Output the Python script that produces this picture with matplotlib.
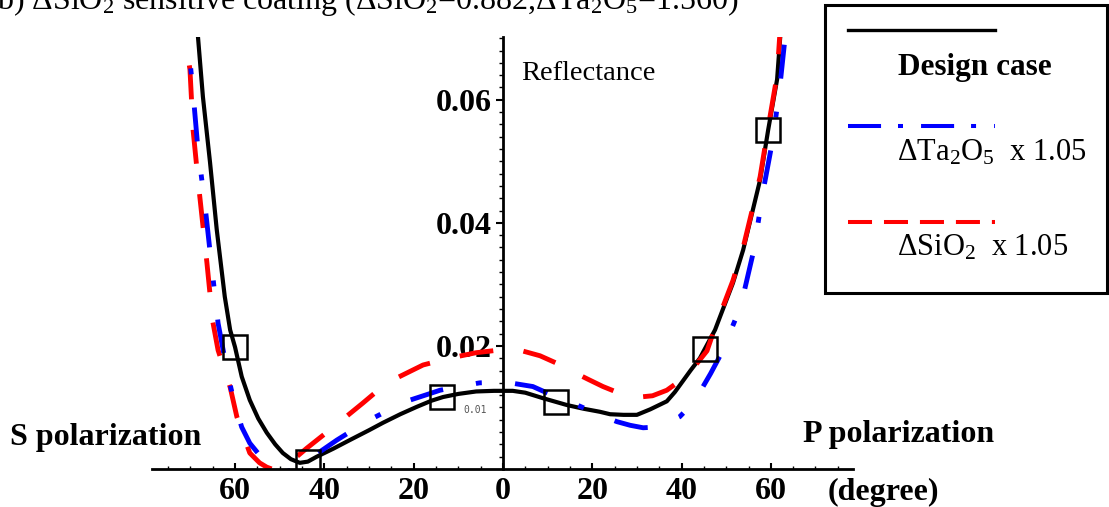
import numpy as np
import matplotlib
matplotlib.use('Agg')
import matplotlib.pyplot as plt
from matplotlib.lines import Line2D
from matplotlib.patches import Rectangle

# angle of incidence in degrees: S polarization plotted on the negative side, P on the positive side
design_deg = [-69.5, -68.3, -67.2, -65.6, -64.1, -62.3, -61.1, -60.0, -58.5, -56.7, -54.8, -52.9,
              -51.0, -49.3, -47.5, -45.5, -43.7, -41.7, -38.0, -34.3, -30.0, -26.9, -23.0, -19.3,
              -16.0, -13.4, -10.0, -6.0, -2.0, 0.0, 2.2, 5.0, 9.0, 14.3, 18.0, 21.7, 24.0, 27.0,
              30.0, 33.0, 36.7, 38.5, 40.3, 42.0, 44.1, 45.5, 47.5, 48.6, 51.5, 53.8, 55.8, 57.6,
              59.4, 61.4, 62.1, 62.8]
design_R = [0.080, 0.0702, 0.0605, 0.0498, 0.0389, 0.0280, 0.0226, 0.0198, 0.0150, 0.0112, 0.0082, 0.0059,
            0.0040, 0.0026, 0.0016, 0.0010, 0.0012, 0.0020, 0.0033, 0.0047, 0.0063, 0.0075, 0.0089, 0.0101,
            0.0111, 0.0117, 0.0122, 0.0126, 0.0127, 0.0127, 0.0127, 0.0124, 0.0115, 0.0104, 0.0098, 0.0093,
            0.0089, 0.0088, 0.0088, 0.0097, 0.0110, 0.0125, 0.0143, 0.0160, 0.0180, 0.0199, 0.0226, 0.0247,
            0.0302, 0.0356, 0.0416, 0.0470, 0.0551, 0.0633, 0.0702, 0.0770]

ta_deg = [-71.3, -70.6, -69.4, -68.3, -66.8, -65.4, -63.8, -61.8, -60.2, -58.5, -56.7, -54.0, -51.5,
          -50.5, -48.5, -46.5, -44.5, -42.6, -40.0, -37.2, -33.0, -29.0, -25.0, -20.8, -17.0, -14.1,
          -10.0, -5.2, 0.0, 1.6, 6.7, 11.0, 16.6, 21.0, 25.5, 28.5, 31.4, 34.0, 36.5, 39.6, 42.0, 44.1,
          46.5, 49.0, 52.0, 53.5, 56.2, 58.2, 60.5, 62.0, 63.2, 64.0]
ta_R = [0.076, 0.0702, 0.0611, 0.0519, 0.0433, 0.0340, 0.0237, 0.0160, 0.0108, 0.0068, 0.0042, 0.0018, 0.0003,
        0.0000, -0.0004, 0.0000, 0.0010, 0.0020, 0.0033, 0.0047, 0.0066, 0.0083, 0.0098, 0.0112, 0.0121, 0.0128,
        0.0134, 0.0140, 0.0141, 0.0140, 0.0134, 0.0120, 0.0104, 0.0090, 0.0077, 0.0071, 0.0067, 0.0068, 0.0074,
        0.0085, 0.0103, 0.0125, 0.0155, 0.0189, 0.0242, 0.0272, 0.0356, 0.0449, 0.0538, 0.0620, 0.0702, 0.0770]

si_deg = [-72.0, -71.2, -70.1, -69.4, -68.3, -66.3, -65.0, -63.8, -61.1, -59.6, -58.0, -56.7, -54.5,
          -52.9, -51.0, -49.5, -47.0, -43.9, -38.0, -31.4, -26.0, -17.9, -12.0, -6.0, 0.0, 0.9, 3.8, 8.3,
          12.0, 15.7, 19.0, 22.4, 26.5, 30.7, 33.5, 36.7, 39.0, 41.2, 43.5, 45.7, 47.5, 48.6, 51.5, 53.8,
          55.8, 57.6, 59.4, 61.4, 62.0, 62.7]
si_R = [0.076, 0.0702, 0.0649, 0.0551, 0.0470, 0.0335, 0.0240, 0.0193, 0.0133, 0.0085, 0.0052, 0.0026, 0.0010,
        0.0003, -0.0002, 0.0001, 0.0015, 0.0034, 0.0068, 0.0107, 0.0140, 0.0169, 0.0180, 0.0189, 0.0194, 0.0192,
        0.0193, 0.0184, 0.0172, 0.0158, 0.0146, 0.0134, 0.0122, 0.0117, 0.0119, 0.0128, 0.0140, 0.0156, 0.0172,
        0.0192, 0.0230, 0.0251, 0.0306, 0.0360, 0.0420, 0.0475, 0.0555, 0.0640, 0.0705, 0.0770]

box_deg = [-60.0, -43.7, -13.7, 11.9, 45.2, 59.4]

xtick_pos = [-60, -40, -20, 0, 20, 40, 60]
xtick_labels = ['60', '40', '20', '0', '20', '40', '60']
ytick_pos = [0.02, 0.04, 0.06]
ytick_labels = ['0.02', '0.04', '0.06']

plt.rcParams['font.family'] = ['Liberation Serif', 'DejaVu Serif']
plt.rcParams['mathtext.fontset'] = 'custom'
plt.rcParams['mathtext.rm'] = 'Liberation Serif'
plt.rcParams['mathtext.it'] = 'Liberation Serif:italic'
plt.rcParams['mathtext.bf'] = 'Liberation Serif:bold'
plt.rcParams['lines.scale_dashes'] = False

W, H = 1109, 507
fig = plt.figure(figsize=(W / 100, H / 100), dpi=100)


def fx(px):
    return px / W


def fy(py):
    return 1 - py / H


ax = fig.add_axes([fx(152), fy(469), (853 - 152) / W, (469 - 37) / H])
ax.set_xlim(-78.6, 78.4)
ax.set_ylim(0, 0.0702)

ax.plot(design_deg, design_R, color='black', lw=3.0, solid_capstyle='butt')
ax.plot(si_deg, si_R, color='red', lw=3.5, dashes=(24.5, 22))
ax.plot(ta_deg, ta_R, color='blue', lw=3.5, dashes=(24.5, 24, 4.3, 24))
ax.plot(box_deg, np.interp(box_deg, design_deg, design_R), 's', mfc='none', mec='black',
        ms=17.5, mew=1.8, zorder=5)

for s in ['top', 'right']:
    ax.spines[s].set_visible(False)
ax.spines['left'].set_position(('data', 0))
ax.spines['bottom'].set_position(('data', 0))
ax.spines['left'].set_linewidth(2)
ax.spines['bottom'].set_linewidth(2)
ax.spines['left'].set_zorder(1)

ax.set_xticks(xtick_pos)
ax.set_xticklabels(xtick_labels, fontsize=23, fontweight='bold')
ax.set_xticks(np.arange(-75, 80, 5), minor=True)
ax.tick_params(axis='x', which='major', direction='in', length=4, width=1.5, pad=6)
ax.tick_params(axis='x', which='minor', direction='in', length=2, width=1)

ax.set_yticks(ytick_pos)
ax.set_yticklabels(ytick_labels, fontsize=23, fontweight='bold')
ax.set_yticks(np.arange(0.002, 0.0702, 0.002), minor=True)
ax.tick_params(axis='y', which='major', direction='out', length=5, width=1.5, pad=3)
ax.tick_params(axis='y', which='minor', direction='out', length=3, width=1)
for lab in ax.get_yticklabels():
    lab.set_bbox(dict(facecolor='white', edgecolor='none', pad=1))

ax.text(-6.3, 0.0096, '0.01', fontsize=7, color='#555555', family='DejaVu Sans Mono',
        ha='center', va='center')

fig.text(fx(521), fy(80), 'Reflectance', fontsize=20.5, ha='left', va='baseline')
fig.text(fx(10), fy(445), 'S polarization', fontsize=23, fontweight='bold', ha='left', va='baseline')
fig.text(fx(803), fy(442), 'P polarization', fontsize=23, fontweight='bold', ha='left', va='baseline')
fig.text(fx(828), fy(500), '(degree)', fontsize=23, fontweight='bold', ha='left', va='baseline')
fig.text(fx(-3), fy(9), r'b) ΔSiO$_2$ sensitive coating (ΔSiO$_2$=0.882,ΔTa$_2$O$_5$=1.560)',
         fontsize=23, ha='left', va='baseline')

# legend box drawn by hand: line sample above each label
fig.patches.append(Rectangle((fx(825), fy(293)), fx(1107) - fx(825), fy(5) - fy(293),
                             transform=fig.transFigure, fill=False, edgecolor='black', lw=2.2))
fig.add_artist(Line2D([fx(848), fx(995)], [fy(30), fy(30)], color='black', lw=2.4))
fig.add_artist(Line2D([fx(848), fx(995)], [fy(126), fy(126)], color='blue', lw=2.9,
                      dashes=(23.8, 12.2, 3.6, 13)))
fig.add_artist(Line2D([fx(848), fx(995)], [fy(222), fy(222)], color='red', lw=2.9,
                      dashes=(17.3, 8.6)))
fig.text(fx(975), fy(67), 'Design case', fontsize=22.5, fontweight='bold', ha='center', va='center')
fig.text(fx(897), fy(160), r'ΔTa$_2$O$_5$  x 1.05', fontsize=22, ha='left', va='baseline')
fig.text(fx(897), fy(256), r'ΔSiO$_2$  x 1.05', fontsize=22, ha='left', va='baseline')

fig.savefig('out.png', dpi=100)
